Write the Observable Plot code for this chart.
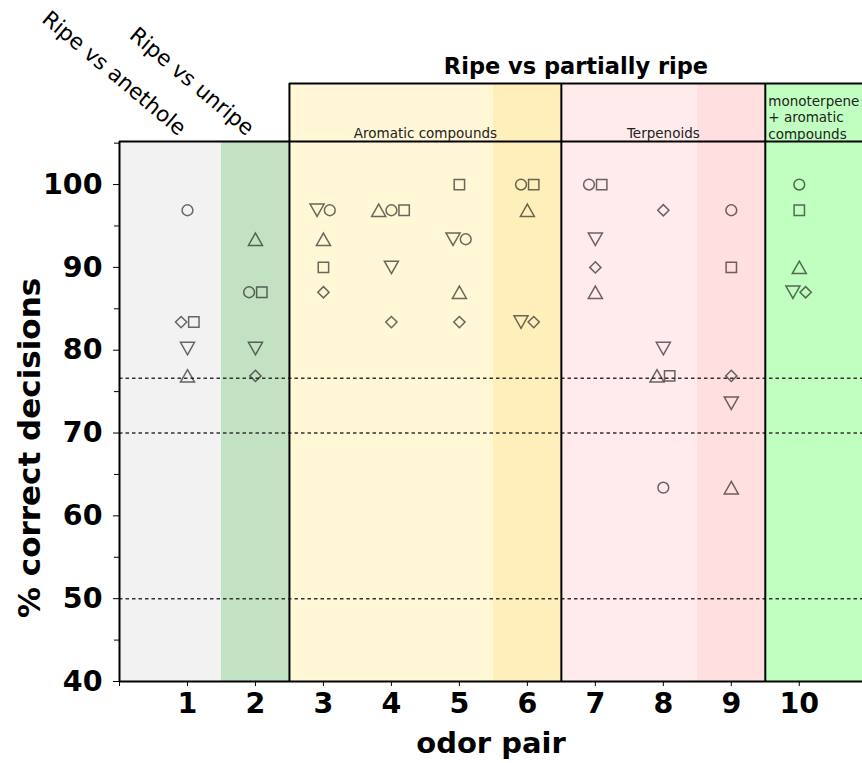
<!DOCTYPE html>
<html>
<head>
<meta charset="utf-8">
<script src="https://cdn.jsdelivr.net/npm/d3@7"></script>
<script src="https://cdn.jsdelivr.net/npm/@observablehq/plot@0.6"></script>
<style>
  html, body { margin: 0; padding: 0; background: #fff; }
  #chart svg { display: block; }
</style>
</head>
<body>
<div id="chart"></div>
<script>
// ---------- data ----------
const pairs = [1, 2, 3, 4, 5, 6, 7, 8, 9, 10];
const circleValues  = [96.9, 87.0, 96.9, 96.9, 93.4, 100, 100, 63.4, 96.9, 100];
const squareValues  = [83.4, 87.0, 90.0, 96.9, 100, 100, 100, 76.9, 90.0, 96.9];
const diamondValues = [83.4, 76.9, 87.0, 83.4, 83.4, 83.4, 90.0, 96.9, 76.9, 87.0];
const triUpValues   = [76.9, 93.4, 93.4, 96.9, 87.0, 96.9, 87.0, 76.9, 63.4, 90.0];
const triDownValues = [80.2, 80.2, 96.9, 90.0, 93.4, 83.4, 93.4, 80.2, 73.6, 87.0];
const seriesOrder = ["triup", "tridown", "circle", "diamond", "square"];

const yTicks = [40, 50, 60, 70, 80, 90, 100];
const yMinorTicks = [45, 55, 65, 75, 85, 95, 105];
const xTicks = [0, 1, 2, 3, 4, 5, 6, 7, 8, 9, 10];
const referenceLines = [76.6, 70, 50];

const xDomain = [0, 10.93];
const yDomain = [40, 105.2];
const headerTop = 112.2;

const bandEdges  = [0, 1.5, 2.5, 5.5, 6.5, 8.5, 9.5, 10.93];
const bandColors = ["#f2f2f2", "#c3e2c3", "#fff7d6", "#fff0bb", "#ffebeb", "#ffdfe0", "#c0ffc0"];
const groupEdges = [2.5, 6.5, 9.5];
const groupLabels = ["Aromatic compounds", "Terpenoids", "monoterpene\n+ aromatic\ncompounds"];
const groupTitle = "Ripe vs partially ripe";
const comparisonPairs = [1, 2];
const comparisonLabels = ["Ripe vs anethole", "Ripe vs unripe"];
const xLabel = "odor pair";
const yLabel = "% correct decisions";

// ---------- derived tables ----------
const seriesValues = {
  circle: circleValues, square: squareValues, diamond: diamondValues,
  triup: triUpValues, tridown: triDownValues
};
const points = [];
pairs.forEach((p, i) => {
  seriesOrder.forEach(s => points.push({pair: p, shape: s, value: seriesValues[s][i]}));
});
// side-by-side offsets for markers sharing the same value in a pair
const step = 0.187;
d3.group(points, d => d.pair, d => d.value).forEach(byVal => byVal.forEach(grp => {
  grp.sort((a, b) => seriesOrder.indexOf(a.shape) - seriesOrder.indexOf(b.shape));
  grp.forEach((d, i) => d.x = d.pair + (i - (grp.length - 1) / 2) * step);
}));

const bands = bandColors.map((c, i) => ({x1: bandEdges[i], x2: bandEdges[i + 1], fill: c}));
const headerBands = bands.filter(b => b.x1 >= groupEdges[0]);
const groups = groupLabels.map((l, i) => ({
  label: l, x1: groupEdges[i], x2: i + 1 < groupEdges.length ? groupEdges[i + 1] : xDomain[1]
}));
const comparisons = comparisonPairs.map((p, i) => ({pair: p, label: comparisonLabels[i]}));

// ---------- marker shapes ----------
const R = s => Math.sqrt(s / Math.PI);
const symCircle = {draw(c, s) { const r = R(s); c.moveTo(r, 0); c.arc(0, 0, r, 0, 2 * Math.PI); c.closePath(); }};
const symSquare = {draw(c, s) { const r = R(s) * 0.96; c.rect(-r, -r, 2 * r, 2 * r); }};
const symDiamond = {draw(c, s) { const r = R(s) * 1.04; c.moveTo(0, -r); c.lineTo(r, 0); c.lineTo(0, r); c.lineTo(-r, 0); c.closePath(); }};
const symTriUp = {draw(c, s) { const r = R(s); const w = r * 1.3, h = r * 1.15; c.moveTo(0, -h); c.lineTo(w, h); c.lineTo(-w, h); c.closePath(); }};
const symTriDown = {draw(c, s) { const r = R(s); const w = r * 1.3, h = r * 1.15; c.moveTo(0, h); c.lineTo(w, -h); c.lineTo(-w, -h); c.closePath(); }};
const symbols = {circle: symCircle, square: symSquare, diamond: symDiamond, triup: symTriUp, tridown: symTriDown};

const markerStroke = "#1a1a1a";
const font = "DejaVu Sans";

const dotMarks = seriesOrder.map(s => Plot.dot(points.filter(d => d.shape === s), {
  x: "x", y: "value", symbol: symbols[s], r: 5.4,
  stroke: markerStroke, strokeOpacity: 0.65, strokeWidth: 1.5, fill: "none"
}));

const chart = Plot.plot({
  width: 862,
  height: 763,
  marginLeft: 119,
  marginRight: 0,
  marginTop: 141,
  marginBottom: 82,
  style: {fontFamily: font, background: "#fff", overflow: "visible"},
  x: {domain: xDomain},
  y: {domain: yDomain},
  marks: [
    // plot-area backgrounds
    Plot.rectX(bands, {x1: "x1", x2: "x2", y1: yDomain[0], y2: yDomain[1], fill: "fill"}),
    // header backgrounds
    Plot.rectX(headerBands, {x1: "x1", x2: "x2", y1: yDomain[1], y2: headerTop, fill: "fill"}),
    // reference (dashed) lines
    Plot.ruleY(referenceLines, {x1: xDomain[0], x2: xDomain[1], stroke: "#333", strokeWidth: 1.5, strokeDasharray: "3.5,3"}),
    // frame lines
    Plot.ruleX(groupEdges, {y1: yDomain[0], y2: headerTop, stroke: "#000", strokeWidth: 2}),
    Plot.ruleY([yDomain[1]], {x1: xDomain[0], x2: xDomain[1], stroke: "#000", strokeWidth: 2}),
    Plot.ruleY([headerTop], {x1: groupEdges[0], x2: xDomain[1], stroke: "#000", strokeWidth: 2}),
    Plot.ruleX([xDomain[0]], {y1: yDomain[0], y2: yDomain[1], stroke: "#000", strokeWidth: 2}),
    Plot.ruleY([yDomain[0]], {x1: xDomain[0], x2: xDomain[1], stroke: "#000", strokeWidth: 2}),
    // axes
    Plot.axisY(yTicks, {tickSize: 6, tickPadding: 11, fontSize: 28.5, fontWeight: "bold", fill: "#000", label: null}),
    Plot.axisY(yMinorTicks, {tickSize: 5, tickFormat: () => "", label: null}),
    Plot.axisX(xTicks, {tickSize: 5, tickPadding: 6, fontSize: 28.5, fontWeight: "bold", fill: "#000",
      tickFormat: d => d === 0 ? "" : String(d), label: null}),
    // axis titles
    Plot.text([yLabel], {x: xDomain[0], y: 68.2, text: d => d, rotate: -90, dx: -89,
      fontSize: 31, fontWeight: "bold", fill: "#000", textAnchor: "middle", lineAnchor: "middle"}),
    Plot.text([xLabel], {x: (xDomain[0] + xDomain[1]) / 2, y: yDomain[0], text: d => d, dy: 62,
      fontSize: 29, fontWeight: "bold", fill: "#000", textAnchor: "middle", lineAnchor: "middle"}),
    // header texts
    Plot.text([groupTitle], {x: (groupEdges[0] + xDomain[1]) / 2, y: headerTop, text: d => d, dy: -10,
      fontSize: 22.5, fontWeight: "bold", fill: "#000", lineAnchor: "bottom"}),
    Plot.text(groups.slice(0, 2), {x: d => (d.x1 + d.x2) / 2, y: yDomain[1], text: "label", dy: -4,
      fontSize: 13.5, fill: "#222", lineAnchor: "bottom"}),
    Plot.text(groups.slice(2), {x: "x1", y: yDomain[1], text: "label", dx: 3, dy: -3,
      fontSize: 13.5, fill: "#222", textAnchor: "start", lineAnchor: "bottom", lineHeight: 1.2}),
    Plot.text(comparisons, {x: "pair", y: yDomain[1], text: "label", rotate: 40, dx: -9, dy: -5,
      fontSize: 21.5, fill: "#000", textAnchor: "end", lineAnchor: "bottom"}),
    // markers
    ...dotMarks
  ]
});
document.getElementById("chart").appendChild(chart);
</script>
</body>
</html>
